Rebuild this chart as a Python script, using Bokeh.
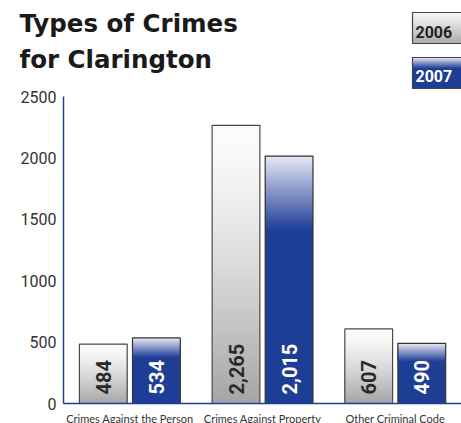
import numpy as np
from bokeh.plotting import figure
from bokeh.models import ColumnDataSource, Range1d, FixedTicker, Label
from bokeh.core.properties import value
from bokeh.embed import file_html
from bokeh.resources import INLINE

# ---- data ----
categories = ["Crimes Against the Person", "Crimes Against Property", "Other Criminal Code"]
crimes_2006 = [484, 2265, 607]
crimes_2007 = [534, 2015, 490]
years = ["2006", "2007"]
y_ticks = [0, 500, 1000, 1500, 2000, 2500]
title_lines = ["Types of Crimes", "for Clarington"]

# ---- styles ----
GREY_TOP = (252, 252, 252)
GREY_BOT = (164, 164, 164)
BLUE_TOP = (232, 232, 245)
BLUE_BOT = (30, 62, 150)
AXIS_BLUE = "#1f3f96"
OUTLINE = "#4a4a4a"
DODGE = 0.2
BAR_W = 0.36

# canvas-pixel layout (frame fills the whole canvas)
W, H = 461, 423
AXIS_X_PX = 63      # column of the y axis
AXIS_Y_PX = 403     # row of the x axis (value 0)
GROUP_PX = 132.7    # distance between category centres
Y_MAX_PX = 96       # row of the axis maximum
Y_MAX = y_ticks[-1]
UNITS_PER_PX = Y_MAX / (AXIS_Y_PX - Y_MAX_PX)
Y_START = -(H - AXIS_Y_PX) * UNITS_PER_PX
Y_END = AXIS_Y_PX * UNITS_PER_PX
X_START = -AXIS_X_PX / GROUP_PX
X_END = (W - AXIS_X_PX) / GROUP_PX

cat_pos = [i + 0.5 for i in range(len(categories))]


def lerp(c0, c1, t):
    return "#%02x%02x%02x" % tuple(int(round(a + (b - a) * t)) for a, b in zip(c0, c1))


def bar_bands(xpos, vals, c_top, c_bot, frac, gamma, n=60):
    xs, bottoms, tops, colors = [], [], [], []
    for c, v in zip(xpos, vals):
        xs.append(c); bottoms.append(0); tops.append(v); colors.append(lerp(c_top, c_bot, 1.0))
        g0 = v * (1 - frac)
        for i in range(n):
            t = 1 - (i + 0.5) / n
            xs.append(c)
            bottoms.append(g0 + v * frac * i / n)
            tops.append(v)
            colors.append(lerp(c_top, c_bot, t ** gamma))
    return ColumnDataSource(dict(x=xs, bottom=bottoms, top=tops, color=colors))


p = figure(x_range=Range1d(X_START, X_END), y_range=Range1d(Y_START, Y_END),
           width=W, height=H, output_backend="svg", toolbar_location=None,
           min_border=0, background_fill_color="white", border_fill_color="white")
p.outline_line_color = None
p.xgrid.grid_line_color = None
p.ygrid.grid_line_color = None
p.extra_x_ranges = {"px": Range1d(0, W)}
p.extra_y_ranges = {"px": Range1d(H, 0)}

p.xaxis.ticker = FixedTicker(ticks=cat_pos)
p.xaxis.major_label_overrides = {pos: name for pos, name in zip(cat_pos, categories)}
p.xaxis.bounds = (0, len(categories))
p.xaxis.fixed_location = 0
p.yaxis.ticker = FixedTicker(ticks=y_ticks)
p.yaxis.bounds = (0, Y_MAX)
p.yaxis.fixed_location = 0
for ax in (p.xaxis, p.yaxis):
    ax.axis_line_color = AXIS_BLUE
    ax.axis_line_width = 1.5
    ax.major_tick_in = 0
    ax.major_tick_out = 0
    ax.minor_tick_in = 0
    ax.minor_tick_out = 0
p.yaxis.major_label_text_font = "Roboto"
p.yaxis.major_label_text_font_size = "16px"
p.yaxis.major_label_text_color = "#333333"
p.yaxis.major_label_standoff = 7
p.xaxis.major_label_text_font = "Lato"
p.xaxis.major_label_text_font_size = "11px"
p.xaxis.major_label_text_color = "#333333"
p.xaxis.major_label_standoff = 8

x06 = [c - DODGE for c in cat_pos]
x07 = [c + DODGE for c in cat_pos]
s06 = bar_bands(x06, crimes_2006, GREY_TOP, GREY_BOT, 1.0, 1.4)
s07 = bar_bands(x07, crimes_2007, BLUE_TOP, BLUE_BOT, 0.3, 1.0)
p.vbar(x="x", bottom="bottom", top="top", width=BAR_W,
       fill_color="color", line_color=None, source=s06)
p.vbar(x="x", bottom="bottom", top="top", width=BAR_W,
       fill_color="color", line_color=None, source=s07)

src = ColumnDataSource(dict(x06=x06, x07=x07, v06=crimes_2006, v07=crimes_2007,
                            l06=[f"{v:,}" for v in crimes_2006],
                            l07=[f"{v:,}" for v in crimes_2007]))
p.vbar(x="x06", top="v06", width=BAR_W, fill_color=None,
       line_color=OUTLINE, line_width=1.2, source=src)
p.vbar(x="x07", top="v07", width=BAR_W, fill_color=None,
       line_color="#333333", line_width=1.2, source=src)
p.text(x="x06", y=0, text="l06", angle=np.pi / 2,
       text_align="left", text_baseline="middle", y_offset=-9,
       text_font=value("Roboto"), text_font_style="bold", text_font_size="20px",
       text_color="#2a2a2a", source=src)
p.text(x="x07", y=0, text="l07", angle=np.pi / 2,
       text_align="left", text_baseline="middle", y_offset=-9,
       text_font=value("Roboto"), text_font_style="bold", text_font_size="20px",
       text_color="white", source=src)

# ---- title (canvas pixel coordinates) ----
for line, base in zip(title_lines, [23, 59]):
    p.add_layout(Label(x=19, y=base, x_range_name="px", y_range_name="px", text=line,
                       text_font="DejaVu Sans", text_font_style="bold",
                       text_font_size="24.5px", text_baseline="alphabetic",
                       text_color="#1a1a1a"))


# ---- legend boxes (canvas pixel coordinates) ----
def legend_box(left, right, top, bottom, c_top, c_bot, frac, gamma, n=30):
    h = bottom - top
    L, R, T, B, C = [left], [right], [top], [bottom], [lerp(c_top, c_bot, 1.0)]
    for i in range(n):
        tt = (n - i - 0.5) / n
        L.append(left); R.append(right); T.append(top)
        B.append(top + frac * h * (1 - i / n))
        C.append(lerp(c_top, c_bot, tt ** gamma))
    p.quad(left=L, right=R, top=T, bottom=B, fill_color=C, line_color=None,
           x_range_name="px", y_range_name="px")
    p.quad(left=[left], right=[right], top=[top], bottom=[bottom], fill_color=None,
           line_color="#444444", line_width=1.2, x_range_name="px", y_range_name="px")


legend_box(412, 470, 12, 43, (246, 246, 246), (168, 168, 168), 1.0, 1.2)
legend_box(412, 470, 57, 88, BLUE_TOP, BLUE_BOT, 0.35, 1.0)
p.text(x=[415, 415], y=[31, 75], text=years, text_font=value("Roboto"),
       text_font_style="bold", text_font_size="16px", text_baseline="alphabetic",
       text_color=["#222222", "white"], x_range_name="px", y_range_name="px")

open("out.html", "w").write(file_html(p, INLINE))
